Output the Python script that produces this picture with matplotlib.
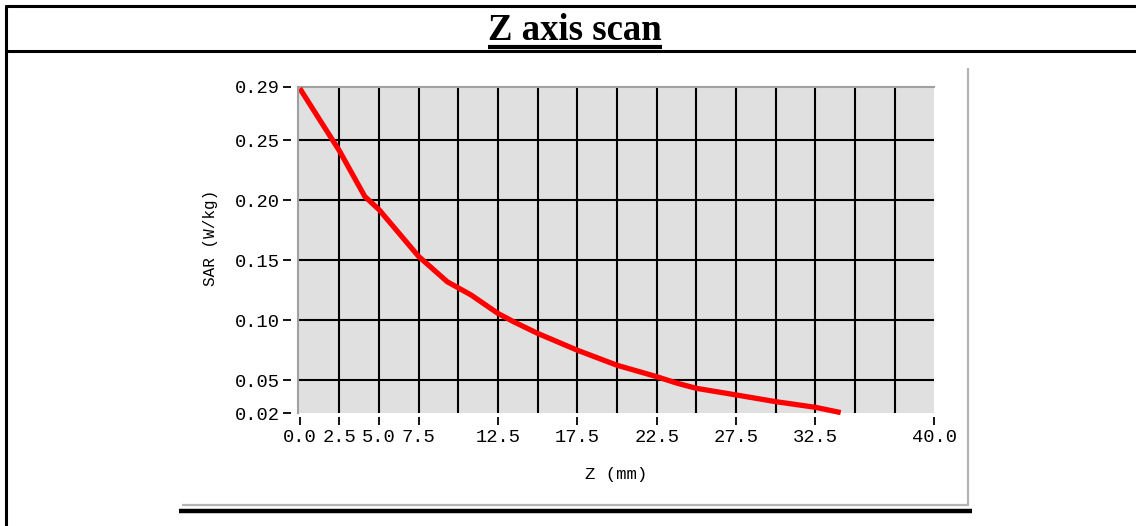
import numpy as np
import matplotlib
matplotlib.use("Agg")
import matplotlib.pyplot as plt
from matplotlib.lines import Line2D

# valores
z_mm = [0.0, 2.5, 4.1, 5.0, 7.5, 9.3, 10.8, 12.5, 13.5, 15.0, 17.5, 20.0,
        22.5, 23.8, 25.0, 27.5, 30.0, 32.5, 34.1]
sar = [0.293, 0.241, 0.203, 0.192, 0.153, 0.132, 0.121, 0.1056, 0.0986, 0.089,
       0.075, 0.0625, 0.053, 0.0475, 0.0433, 0.0378, 0.0322, 0.0275, 0.0231]

x_ticks = [0.0, 2.5, 5.0, 7.5, 12.5, 17.5, 22.5, 27.5, 32.5, 40.0]
x_tick_labels = ["0.0", "2.5", "5.0", "7.5", "12.5", "17.5", "22.5", "27.5", "32.5", "40.0"]
y_min, y_max = 0.0225, 0.2944
y_ticks = [y_min, 0.05, 0.10, 0.15, 0.20, 0.25, y_max]
y_tick_labels = ["0.02", "0.05", "0.10", "0.15", "0.20", "0.25", "0.29"]
x_grid = np.arange(2.5, 40, 2.5)
y_grid = [0.05, 0.10, 0.15, 0.20, 0.25]

W, H = 1136, 526
fig = plt.figure(figsize=(W / 100, H / 100), dpi=100)
mono = "Liberation Mono"

def px(x, y):
    # pixel (a partir do topo) -> coordenadas da figura
    return x / W, 1 - y / H

def linha(x0, y0, x1, y1, lw, cor="black"):
    a = px(x0, y0)
    b = px(x1, y1)
    fig.add_artist(Line2D([a[0], b[0]], [a[1], b[1]], color=cor, lw=lw,
                          solid_capstyle="butt", transform=fig.transFigure))

# moldura da tabela
linha(5, 6, W, 6, 2.2)
linha(5, 51, W, 51, 2.2)
linha(6, 5, 6, H, 2.2)
linha(179, 511, 972, 511, 3.2)
# borda da imagem embutida
linha(968, 68, 968, 505, 1.6, "#b4b4b4")
linha(182, 504.5, 969, 504.5, 1.6, "#b4b4b4")

# titulo
tx, ty = px(575, 30)
titulo = fig.text(tx, ty, "Z axis scan", ha="center", va="center",
                  fontsize=26.5, fontweight="bold", family="Liberation Serif")

# grafico
l, b = px(297.7, 413.3)
ax = fig.add_axes([l, b, (934.3 - 297.7) / W, (413.3 - 86.7) / H])
ax.set_facecolor("#e0e0e0")
ax.set_xlim(-0.13, 40)
ax.set_ylim(y_min, y_max)

for gx in x_grid:
    ax.axvline(gx, color="black", lw=1.5, zorder=1)
for gy in y_grid:
    ax.axhline(gy, color="black", lw=1.5, zorder=1)

ax.plot(z_mm, sar, color="#ff0000", lw=3.8, solid_capstyle="butt", zorder=3, clip_on=False)

ax.spines["right"].set_visible(False)
ax.spines["top"].set_color("#a0a0a0")
ax.spines["top"].set_linewidth(1.5)
ax.plot([0, 0], [0, 1], transform=ax.transAxes, color="#a0a0a0", lw=1.5, clip_on=False, zorder=4)

# ticks afastados do eixo, sem linha de eixo visivel
ax.spines["left"].set_position(("outward", 5))
ax.spines["bottom"].set_position(("outward", 3))
ax.spines["left"].set_color("none")
ax.spines["bottom"].set_color("none")

ax.set_xticks(x_ticks)
ax.set_xticklabels(x_tick_labels, family=mono, fontsize=13.5)
ax.set_yticks(y_ticks)
ax.set_yticklabels(y_tick_labels, family=mono, fontsize=13.5)
ax.tick_params(axis="both", length=6, width=1.3, color="black", pad=2)

lx, ly = px(211, 238)
fig.text(lx, ly, "SAR (W/kg)", rotation=90, ha="center", va="center", family=mono, fontsize=11.5)
lx, ly = px(616, 475)
fig.text(lx, ly, "Z (mm)", ha="center", va="center", family=mono, fontsize=12.5)

# sublinhado do titulo
fig.canvas.draw()
bb = titulo.get_window_extent()
yl = 1 - 47 / H
fig.add_artist(Line2D([bb.x0 / W, bb.x1 / W], [yl, yl], color="black", lw=3,
                      solid_capstyle="butt", transform=fig.transFigure))

fig.savefig("out.png", dpi=100)
